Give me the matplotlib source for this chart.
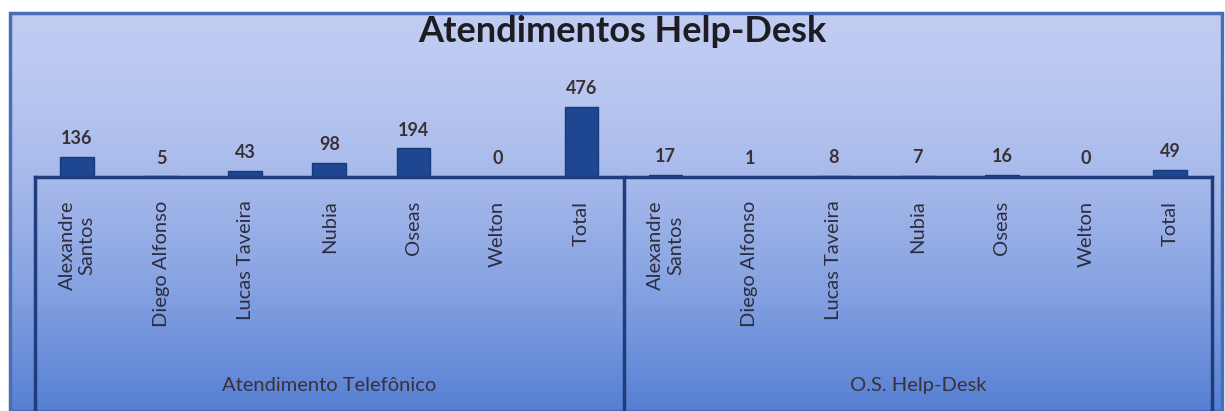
import numpy as np
import matplotlib
matplotlib.use("Agg")
import matplotlib.pyplot as plt
from matplotlib.patches import Rectangle

# Data
people = ["Alexandre\nSantos", "Diego Alfonso", "Lucas Taveira", "Nubia",
          "Oseas", "Welton", "Total"]
groups = ["Atendimento Telefônico", "O.S. Help-Desk"]
telefone = [136, 5, 43, 98, 194, 0, 476]
os_helpdesk = [17, 1, 8, 7, 16, 0, 49]

values = telefone + os_helpdesk
labels = people + people
x = np.arange(len(values))

plt.rcParams["font.family"] = ["Lato", "DejaVu Sans"]

W, H = 1225, 411
fig = plt.figure(figsize=(W / 100, H / 100), dpi=100)
fig.patch.set_facecolor("white")

# Gradient background of the chart area
bg = fig.add_axes([10 / W, 0, 1212 / W, (H - 13) / H])
grad = np.linspace(0, 1, 256).reshape(-1, 1)
top = np.array([192, 204, 242]) / 255
bot = np.array([86, 128, 212]) / 255
img = top + (bot - top) * grad[:, :, None] ** 1.6
bg.imshow(img, aspect="auto", extent=[0, 1, 0, 1], origin="upper")
bg.set_xlim(0, 1)
bg.set_ylim(0, 1)
bg.axis("off")
bg.add_patch(Rectangle((0, 0), 1, 1, fill=False, edgecolor="#4a6db4",
                       linewidth=2.5, transform=bg.transAxes, clip_on=False))

# Main plot
ax = fig.add_axes([35 / W, (H - 177) / H, 1177 / W, 117 / H])
ax.patch.set_alpha(0)
ax.bar(x, values, width=0.4, color="#1e4691", edgecolor="#173a7a", linewidth=1)
for xi, v in zip(x, values):
    ax.annotate(str(v), (xi, v), xytext=(0, 7), textcoords="offset points",
                ha="center", va="bottom", fontsize=13, fontweight="bold",
                color="#3b3036")

ax.set_xlim(-0.5, len(values) - 0.5)
ax.set_ylim(0, 796)
ax.set_yticks([])
ax.set_xticks(x)
ax.set_xticklabels(labels, rotation=90, fontsize=14.5, color="#2e2d40",
                   va="top", ha="center", multialignment="center",
                   linespacing=1.2)
ax.tick_params(axis="x", length=0, pad=17)
for s in ["top", "left", "right"]:
    ax.spines[s].set_visible(False)
ax.spines["bottom"].set_color("#1f3d7c")
ax.spines["bottom"].set_linewidth(2.5)

# Group boxes
xt = ax.get_xaxis_transform()
for xv in [-0.5, 6.5, 13.5]:
    ax.plot([xv, xv], [0, -2.1], transform=xt, clip_on=False,
            color="#1f3d7c", linewidth=2.5)
for i, g in enumerate(groups):
    ax.text(3 + 7 * i, -1.78, g, transform=xt, ha="center", va="center",
            fontsize=14.5, color="#3b3036")

fig.text(622 / W, (H - 31) / H, "Atendimentos Help-Desk", ha="center",
         va="center", fontsize=26, fontweight="bold", color="#1c1c22")

fig.savefig("out.png", dpi=100)
